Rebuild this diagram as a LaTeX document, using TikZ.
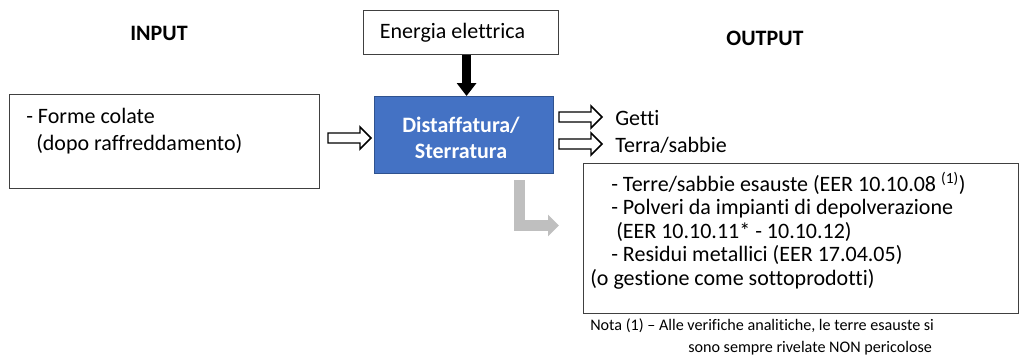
\documentclass[tikz,border=0pt]{standalone}
\usepackage{fontspec}
\setmainfont{Carlito}[Ligatures=NoCommon]
\usetikzlibrary{arrows.meta}
\definecolor{procblue}{HTML}{4472C4}
\definecolor{procedge}{HTML}{2F528F}
\definecolor{arrgray}{HTML}{BFBFBF}
\definecolor{boxedge}{HTML}{404040}
\tikzset{
  mainfont/.style={font=\fontsize{16.5pt}{17.6pt}\selectfont},
  framebox/.style={draw=boxedge, line width=0.9pt, inner sep=0pt, anchor=north west},
  txt/.style={mainfont, inner sep=0pt, align=left},
  hollow/.pic={\draw[line width=1.1pt, fill=white, line join=miter]
     (0,-5) -- (32,-5) -- (32,-11) -- (43,0) -- (32,11) -- (32,5) -- (0,5) -- cycle;},
  blkarr/.style={draw=black, line width=6.75pt, -{Triangle[length=9.75pt,width=14.25pt]}},
  grayarr/.style={draw=arrgray, line width=8.25pt, line join=miter, -{Triangle[length=8.25pt,width=15.75pt]}}
}
\begin{document}
\begin{tikzpicture}[x=0.75pt,y=-0.75pt]
\useasboundingbox (0,0) rectangle (1019,355);
% titles
\node[font=\fontsize{16.5pt}{17.6pt}\selectfont\bfseries] (intitle) at (159,33) {INPUT};
\node[font=\fontsize{16.5pt}{17.6pt}\selectfont\bfseries] (outtitle) at (765,38) {OUTPUT};
% boxes
\node[framebox, minimum width=232.5pt, minimum height=70.5pt] (inbox) at (9,94) {};
\node[txt, anchor=west, font=\fontsize{16.5pt}{20.25pt}\selectfont] (intext) at (26,131.5)
  {- Forme colate\\\hspace*{7.5pt}(dopo raffreddamento)};
\node[framebox, minimum width=146.25pt, minimum height=33pt] (energy) at (363,10) {};
\node[txt] (energytext) at (452.5,33) {Energia elettrica};
\node[framebox, draw=procedge, fill=procblue, line width=1pt, minimum width=134.25pt, minimum height=57.75pt] (proc) at (374,96) {};
\node[txt, align=center, text=white, font=\fontsize{16.5pt}{19.5pt}\selectfont\bfseries] (proctext) at (461,138) {Distaffatura/\\Sterratura};
\node[framebox, minimum width=326.25pt, minimum height=112.5pt] (outbox) at (583,163) {};
\node[txt, anchor=west] (outtext) at (590,230.5)
  {\hspace*{15.75pt}- Terre/sabbie esauste (EER 10.10.08 \textsuperscript{(1)})\\
   \hspace*{15.75pt}- Polveri da impianti di depolverazione\\
   \hspace*{19.5pt}(EER 10.10.11* - 10.10.12)\\
   \hspace*{15.75pt}- Residui metallici (EER 17.04.05)\\
   (o gestione come sottoprodotti)};
\node[txt, anchor=west] (getti) at (615,118) {Getti};
\node[txt, anchor=west] (terra) at (615,145) {Terra/sabbie};
\node[txt, anchor=west, font=\fontsize{12.1pt}{16pt}\selectfont] (nota) at (590,337)
  {Nota (1) -- Alle verifiche analitiche, le terre esauste si\\
   \hspace*{73.5pt}sono sempre rivelate NON pericolose};
% arrows
\pic at (328,138) {hollow};
\pic at (559,117) {hollow};
\pic at (559,144) {hollow};
\draw[blkarr] ([xshift=4.1pt]energy.south) -- ([xshift=4.1pt]energy.south |- proc.north);
\coordinate (gstart) at (519.5,180);
\coordinate (gend) at (559,225.5);
\draw[grayarr] (gstart) |- (gend);
\end{tikzpicture}
\end{document}
